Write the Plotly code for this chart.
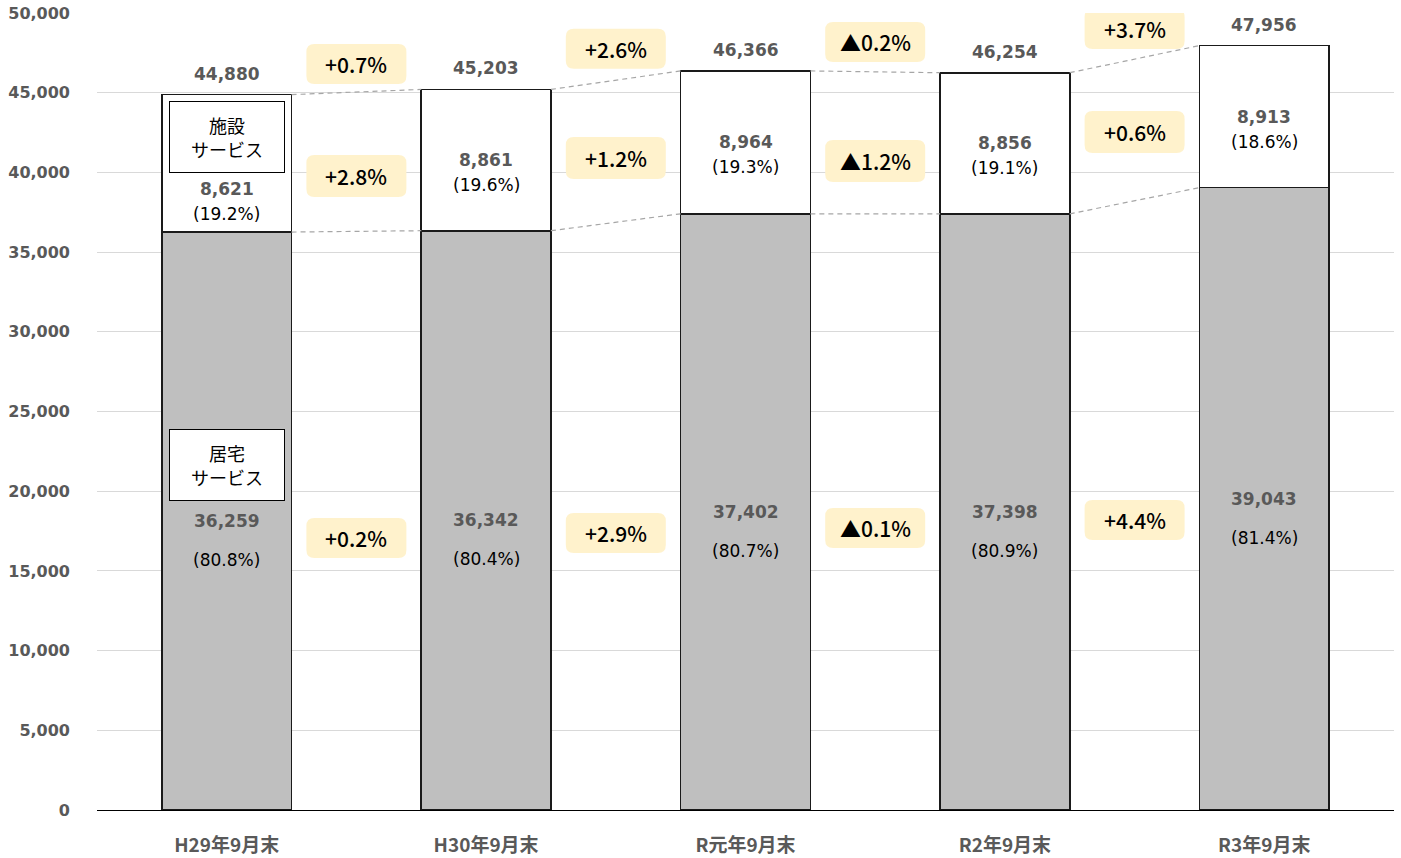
import plotly.graph_objects as go

categories = ["H29年9月末", "H30年9月末", "R元年9月末", "R2年9月末", "R3年9月末"]
home = [36259, 36342, 37402, 37398, 39043]          # 居宅サービス
facility = [8621, 8861, 8964, 8856, 8913]           # 施設サービス
totals = [44880, 45203, 46366, 46254, 47956]
home_pct = ["(80.8%)", "(80.4%)", "(80.7%)", "(80.9%)", "(81.4%)"]
facility_pct = ["(19.2%)", "(19.6%)", "(19.3%)", "(19.1%)", "(18.6%)"]
growth_total = ["+0.7%", "+2.6%", "▲0.2%", "+3.7%"]
growth_facility = ["+2.8%", "+1.2%", "▲1.2%", "+0.6%"]
growth_home = ["+0.2%", "+2.9%", "▲0.1%", "+4.4%"]

# badge vertical positions (layout, in axis units)
badge_y_top = [46800, 47750, 48180, 49000]
badge_y_mid = [39780, 40900, 40720, 42540]
badge_y_bot = [17065, 17380, 17690, 18195]

NUM_FONT = dict(family="DejaVu Sans", size=17, color="#595959", weight="bold")
PCT_FONT = dict(family="DejaVu Sans", size=17, color="#000000")
BADGE_FONT = dict(family="Noto Sans CJK JP", size=21, color="#000000", weight=500)

fig = go.Figure()
fig.add_trace(go.Bar(x=categories, y=home, name="居宅サービス",
                     marker=dict(color="#BFBFBF", line=dict(color="#1a1a1a", width=1.6)),
                     width=0.5, hoverinfo="skip"))
fig.add_trace(go.Bar(x=categories, y=facility, name="施設サービス",
                     marker=dict(color="#FFFFFF", line=dict(color="#1a1a1a", width=1.6)),
                     width=0.5, hoverinfo="skip"))

ann = []
shapes = []
for i in range(len(categories)):
    # totals
    ann.append(dict(x=i, y=totals[i], text=f"{totals[i]:,}", showarrow=False,
                    yanchor="middle", yshift=21, font=NUM_FONT))
    # facility segment labels
    fc = home[i] + facility[i] / 2
    off = -26 if i == 0 else 0
    ann.append(dict(x=i, y=fc, text=f"{facility[i]:,}", showarrow=False,
                    yanchor="middle", yshift=off, font=NUM_FONT))
    ann.append(dict(x=i, y=fc, text=facility_pct[i], showarrow=False,
                    yanchor="middle", yshift=off - 25, font=PCT_FONT))
    # home segment labels
    hc = home[i] / 2
    ann.append(dict(x=i, y=hc, text=f"{home[i]:,}", showarrow=False,
                    yanchor="middle", yshift=0, font=NUM_FONT))
    ann.append(dict(x=i, y=hc, text=home_pct[i], showarrow=False,
                    yanchor="middle", yshift=-39, font=PCT_FONT))


def rounded(w, h, r):
    a, b = w / 2, h / 2
    return (f"M {-a + r},{-b} L {a - r},{-b} Q {a},{-b} {a},{-b + r} "
            f"L {a},{b - r} Q {a},{b} {a - r},{b} L {-a + r},{b} "
            f"Q {-a},{b} {-a},{b - r} L {-a},{-b + r} Q {-a},{-b} {-a + r},{-b} Z")


for i in range(len(categories) - 1):
    # dashed connectors
    for vals in (totals, home):
        shapes.append(dict(type="line", xref="x", yref="y",
                           x0=i + 0.25, y0=vals[i], x1=i + 0.75, y1=vals[i + 1],
                           line=dict(color="#A6A6A6", width=1.2, dash="5px,4px"), layer="above"))
    for labels, ys, h in ((growth_total, badge_y_top, 40),
                          (growth_facility, badge_y_mid, 42),
                          (growth_home, badge_y_bot, 40)):
        shapes.append(dict(type="path", xref="x", yref="y",
                           xsizemode="pixel", ysizemode="pixel",
                           xanchor=i + 0.5, yanchor=ys[i],
                           path=rounded(100, h, 8),
                           fillcolor="#FFF2CC", line=dict(width=0), layer="above"))
        ann.append(dict(x=i + 0.5, y=ys[i], text=labels[i], showarrow=False,
                        yanchor="middle", font=BADGE_FONT))

# legend boxes on first bar
ann.append(dict(x=0, y=42224, text="施設<br>サービス", showarrow=False,
                width=112, height=68, bgcolor="#FFFFFF", bordercolor="#000000", borderwidth=1,
                font=dict(family="Noto Sans CJK JP", size=18, color="#000000")))
ann.append(dict(x=0, y=21645, text="居宅<br>サービス", showarrow=False,
                width=112, height=68, bgcolor="#FFFFFF", bordercolor="#000000", borderwidth=1,
                font=dict(family="Noto Sans CJK JP", size=18, color="#000000")))

fig.update_layout(
    barmode="stack",
    width=1401, height=858,
    margin=dict(l=97, r=7, t=13, b=48, autoexpand=False),
    paper_bgcolor="#FFFFFF", plot_bgcolor="#FFFFFF",
    showlegend=False,
    annotations=ann, shapes=shapes,
    font=dict(family="Noto Sans CJK JP"),
)
fig.update_yaxes(range=[0, 50000], dtick=5000, tickformat=",",
                 showgrid=True, gridcolor="#D9D9D9", gridwidth=1,
                 zeroline=False, showline=False, automargin=False,
                 ticklabeloverflow="allow",
                 tickfont=dict(family="DejaVu Sans", size=16, color="#595959", weight="bold"),
                 ticklabelstandoff=26)
fig.update_xaxes(showline=True, linecolor="#000000", linewidth=1.2,
                 range=[-0.5, 4.5], automargin=False,
                 tickfont=dict(family="Noto Sans CJK JP", size=19, color="#595959", weight="bold"),
                 ticklabelstandoff=18)

# remove the browser's default 8px body margin so the figure sits at the page origin
fig.write_html("out.html", config={"displayModeBar": False},
               post_script="document.body.style.margin='0';")
